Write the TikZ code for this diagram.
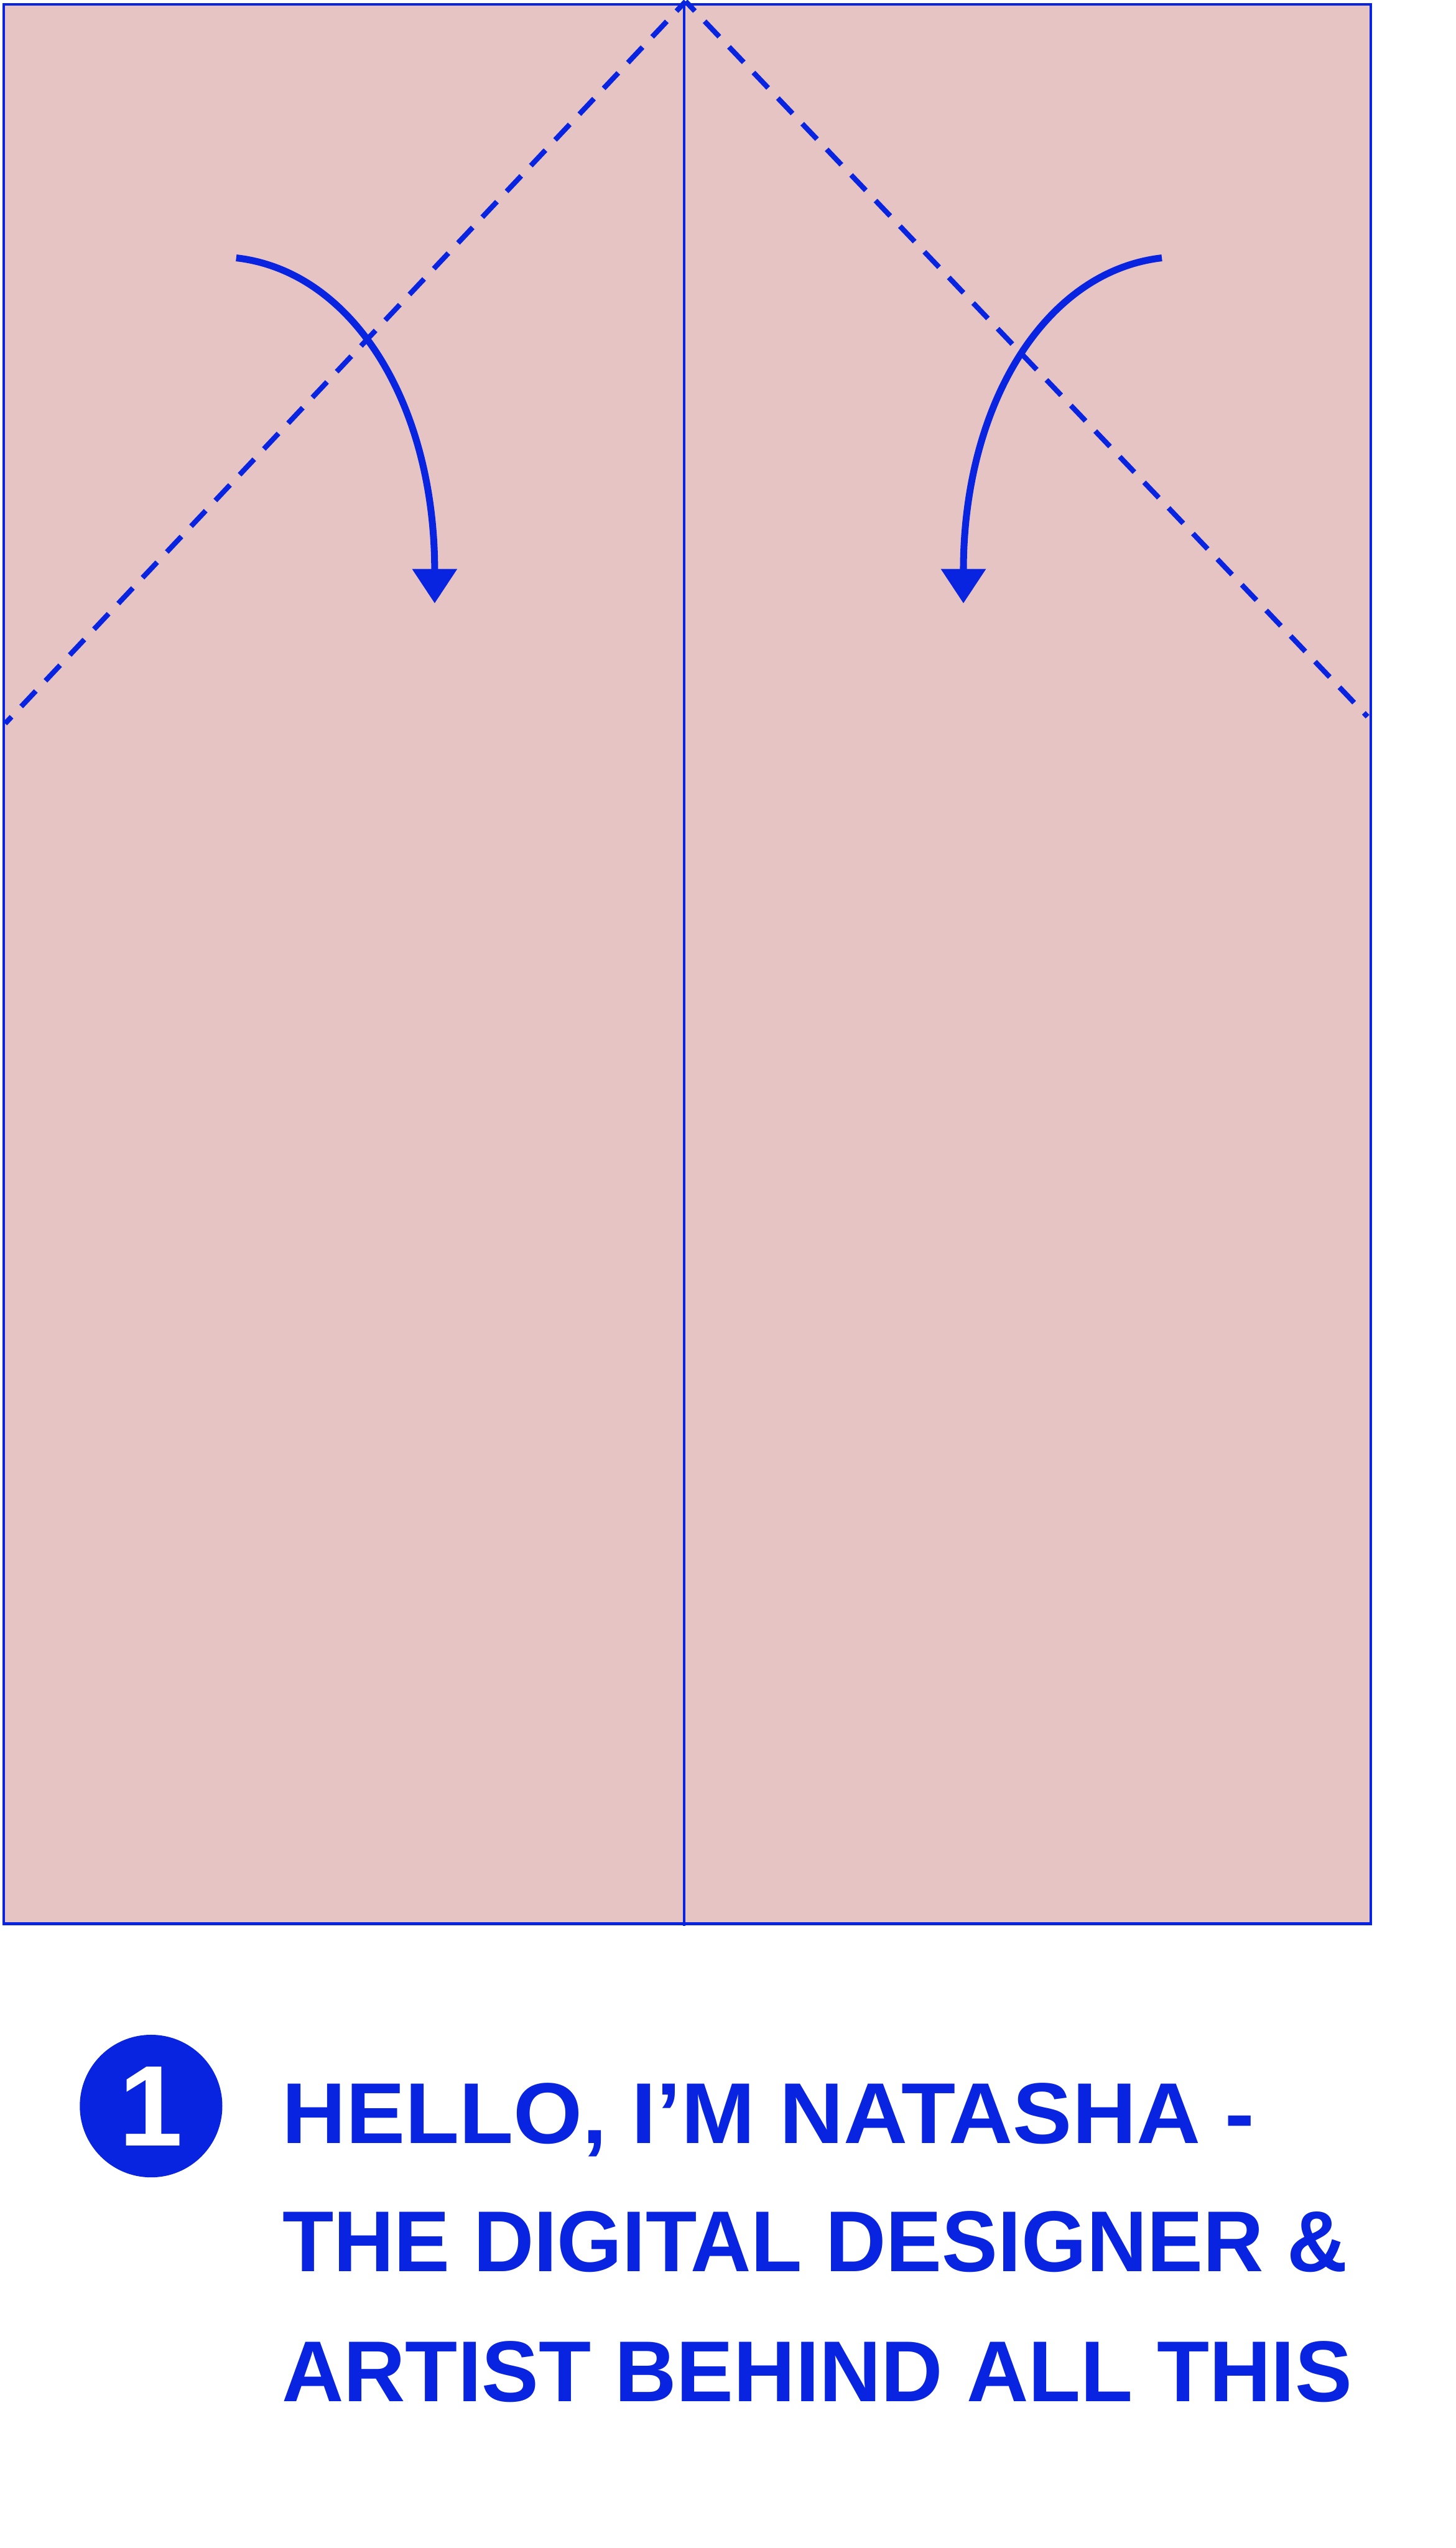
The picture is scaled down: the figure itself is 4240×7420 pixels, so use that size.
\documentclass[tikz,border=0pt]{standalone}
\usepackage{fontspec}
\setmainfont{Liberation Sans}
\usepackage{xcolor}
\usepackage{graphicx}
\usepackage{tikz}
\usetikzlibrary{arrows.meta}
\definecolor{foldblue}{RGB}{9,36,224}
\definecolor{paperpink}{RGB}{230,196,195}
\tikzset{fedge/.style={draw=foldblue,line width=#1},
  valley/.style={draw=foldblue,line width=1.5mm,dash pattern=on 6.2mm off 4.1mm,dash phase=2.3mm},
  turn/.style={draw=foldblue,line width=2mm,-{Triangle[width=12.6mm,length=10mm]}},
  caption/.style={anchor=base west,inner sep=0,text=foldblue,font=\bfseries\fontsize{71.5pt}{80pt}\selectfont},
  badge/.style={circle,fill=foldblue,minimum size=4.15cm,inner sep=0,text=white,font=\bfseries\fontsize{95pt}{100pt}\selectfont}
}

\begin{document}
\begin{tikzpicture}[x=0.01cm,y=-0.01cm]
  \useasboundingbox (0,0) rectangle (4240,7420);
  \begin{scope}[every node/.style={coordinate}]
    \node (TL) at (11,13) {};
    \node (BR) at (3993,5602) {};
    \node (ctop) at (1993,3) {};
    \node (cbot) at (1993,5608) {};
    \node (apex) at (1997,4) {};
    \node (lend) at (15,2107) {};
    \node (rend) at (3983,2087) {};
    \node (la0) at (688,751) {};
    \node (la1) at (1266,1757) {};
    \node (ra0) at (3384,751) {};
    \node (ra1) at (2806,1757) {};
  \end{scope}
  % sheet and creases
  \draw[fedge=0.8mm,fill=paperpink] (TL) rectangle (BR);
  \begin{scope}[every node/.style={}]
    \path [-] (ctop) edge[fedge=0.8mm] node {} (cbot);
    \path [-] (apex) edge[valley] node {} (lend);
    \path [-] (apex) edge[valley] node {} (rend);
  \end{scope}
  % folding arrows
  \draw[turn] (la0) .. controls (1030,790) and (1266,1180) .. (la1);
  \draw[turn] (ra0) .. controls (3042,790) and (2806,1180) .. (ra1);
  % step text
  \node[badge] (step) at (440,6133) {1};
  \node[caption] (line1) at (820,6241) {\scalebox{1.028}[1]{HELLO, I’M NATASHA -}};
  \node[caption] (line2) at (822,6615) {\scalebox{0.971}[1]{THE DIGITAL DESIGNER \&}};
  \node[caption] (line3) at (820,6994) {\scalebox{0.992}[1]{ARTIST BEHIND ALL THIS}};
\end{tikzpicture}
\end{document}
